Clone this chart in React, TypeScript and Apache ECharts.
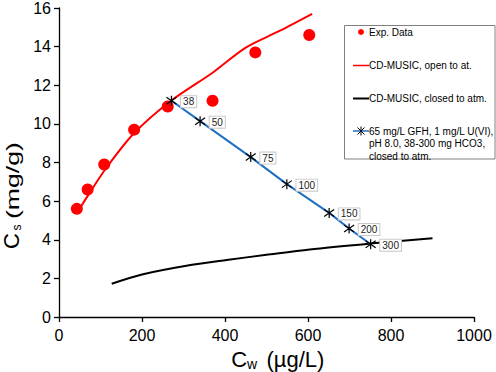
import React, { useEffect, useRef } from "react";
import * as echarts from "echarts";

const FONT = "'Liberation Sans', Arial, sans-serif";

// Experimental data
const expX = [43, 69, 109, 181, 262, 370, 473, 603];
const expY = [5.6, 6.6, 7.9, 9.7, 10.9, 11.2, 13.7, 14.6];

// CD-MUSIC, open to atmosphere
const openX = [45, 70, 110, 180, 270, 370, 450, 530, 610];
const openY = [5.45, 6.3, 7.6, 9.5, 11.2, 12.65, 13.95, 14.8, 15.7];

// CD-MUSIC, closed to atmosphere
const closedX = [127, 200, 307, 404, 500, 604, 749, 900];
const closedY = [1.72, 2.2, 2.65, 2.95, 3.22, 3.5, 3.8, 4.08];

// 65 mg/L GFH series, HCO3 38-300 mg
const gfhX = [271, 340, 462, 549, 651, 699, 751];
const gfhY = [11.2, 10.14, 8.28, 6.88, 5.39, 4.58, 3.77];
const gfhLabels = ["38", "50", "75", "100", "150", "200", "300"];

const xTicks = { min: 0, max: 1000, interval: 200 };
const yTicks = { min: 0, max: 16, interval: 2 };

const STAR = "path://M5,0L5,10M1.5,1.5L8.5,8.5M1.5,8.5L8.5,1.5";

const zip = (xs: number[], ys: number[]) => xs.map((x, i) => [x, ys[i]]);

export default function App() {
  const ref = useRef<HTMLDivElement>(null);
  useEffect(() => {
    if (!ref.current) return;
    const chart = echarts.init(ref.current, null, { renderer: "svg" });
    const axisCommon = {
      type: "value" as const,
      axisLine: { show: true, lineStyle: { color: "#000", width: 1.3 } },
      axisTick: { show: true, inside: false, length: 5, lineStyle: { color: "#000", width: 1.3 } },
      splitLine: { show: false },
    };
    const legendX = 353;
    const star = (cx: number, cy: number) => [
      { type: "line", shape: { x1: cx, y1: cy - 4.5, x2: cx, y2: cy + 4.5 }, style: { stroke: "#000", lineWidth: 1 } },
      { type: "line", shape: { x1: cx - 3.5, y1: cy - 3.5, x2: cx + 3.5, y2: cy + 3.5 }, style: { stroke: "#000", lineWidth: 1 } },
      { type: "line", shape: { x1: cx - 3.5, y1: cy + 3.5, x2: cx + 3.5, y2: cy - 3.5 }, style: { stroke: "#000", lineWidth: 1 } },
    ];
    const legText = (t: string, y: number) => ({
      type: "text",
      x: 369,
      y,
      style: { text: t, fontSize: 10, fontFamily: FONT, fill: "#000", verticalAlign: "middle", align: "left" },
    });
    const tt = (t: string, x: number, y: number, size: number, extra: any = {}) => ({
      type: "text",
      x,
      y,
      ...extra,
      style: { text: t, fontSize: size, fontFamily: FONT, fill: "#000", align: "left", verticalAlign: "middle" },
    });
    chart.setOption({
      animation: false,
      backgroundColor: "#fff",
      grid: { left: 59, right: 22, top: 8, bottom: 55, containLabel: false, outerBoundsMode: "none" },
      xAxis: {
        ...axisCommon,
        ...xTicks,
        axisLabel: { fontSize: 16, color: "#000", fontFamily: FONT, margin: 10, formatter: (v: number) => String(v) },
      },
      yAxis: {
        ...axisCommon,
        ...yTicks,
        axisLabel: { fontSize: 16, color: "#000", fontFamily: FONT, margin: 8, formatter: (v: number) => String(v) },
      },
      series: [
        {
          name: "CD-MUSIC, open to at.",
          type: "line",
          data: zip(openX, openY),
          showSymbol: false,
          symbol: "none",
          smooth: 0.3,
          lineStyle: { color: "#ff0000", width: 2 },
          z: 2,
        },
        {
          name: "Exp. Data",
          type: "scatter",
          data: zip(expX, expY),
          symbol: "circle",
          symbolSize: 12,
          itemStyle: { color: "#ff0000", opacity: 1 },
          z: 3,
        },
        {
          name: "CD-MUSIC, closed to atm.",
          type: "line",
          data: zip(closedX, closedY),
          showSymbol: false,
          symbol: "none",
          smooth: 0.3,
          lineStyle: { color: "#000", width: 2 },
          z: 2,
        },
        {
          name: "GFH",
          type: "line",
          data: zip(gfhX, gfhY),
          symbol: STAR,
          symbolSize: 10,
          showAllSymbol: true,
          lineStyle: { color: "#1f6fc4", width: 2 },
          itemStyle: { color: "#000", borderColor: "#000", borderWidth: 1.2 },
          label: {
            show: true,
            position: "right",
            distance: 4,
            offset: [0, 1],
            formatter: (p: any) => gfhLabels[p.dataIndex],
            fontSize: 10,
            fontFamily: FONT,
            color: "#222",
            backgroundColor: "#fff",
            borderColor: "#c8c8c8",
            borderWidth: 1,
            padding: [1, 2, 0, 2],
          },
          z: 4,
        },
      ],
      graphic: [
        {
          type: "group",
          children: [
            tt("C", 231.2, 359.4, 22),
            tt("w", 247.1, 364.2, 14),
            tt("(µg/L)", 266.5, 359.4, 22),
          ],
        },
        {
          type: "group",
          x: 0,
          y: 248,
          rotation: Math.PI / 2,
          children: [
            tt("C", -1, 11.4, 22),
            tt("s", 17.5, 16.5, 12),
            tt("(mg/g)", 29, 12.9, 19, { scaleX: 1.4 }),
          ],
        },
        {
          type: "group",
          children: [
            {
              type: "rect",
              shape: { x: 344.5, y: 25.5, width: 150.5, height: 133.5 },
              style: { fill: "#fff", stroke: "#808080", lineWidth: 1 },
            },
            { type: "circle", shape: { cx: 361, cy: 32, r: 3 }, style: { fill: "#ff0000" } },
            legText("Exp. Data", 32),
            { type: "line", shape: { x1: legendX, y1: 65.5, x2: 369, y2: 65.5 }, style: { stroke: "#ff0000", lineWidth: 1.5 } },
            legText("CD-MUSIC, open to at.", 65),
            { type: "line", shape: { x1: legendX, y1: 98.5, x2: 369, y2: 98.5 }, style: { stroke: "#000", lineWidth: 2 } },
            legText("CD-MUSIC, closed to atm.", 98),
            { type: "line", shape: { x1: legendX, y1: 131, x2: 369, y2: 131 }, style: { stroke: "#1f6fc4", lineWidth: 1.5 } },
            ...star(361, 131),
            legText("65 mg/L GFH, 1 mg/L U(VI),", 131),
            legText("pH 8.0, 38-300 mg HCO3,", 143.5),
            legText("closed to atm.", 156),
          ],
        },
      ],
    });
    return () => chart.dispose();
  }, []);
  return (
    <div
      ref={ref}
      style={{ position: "absolute", left: 0, top: 0, width: 496, height: 372, background: "#fff" }}
    />
  );
}
